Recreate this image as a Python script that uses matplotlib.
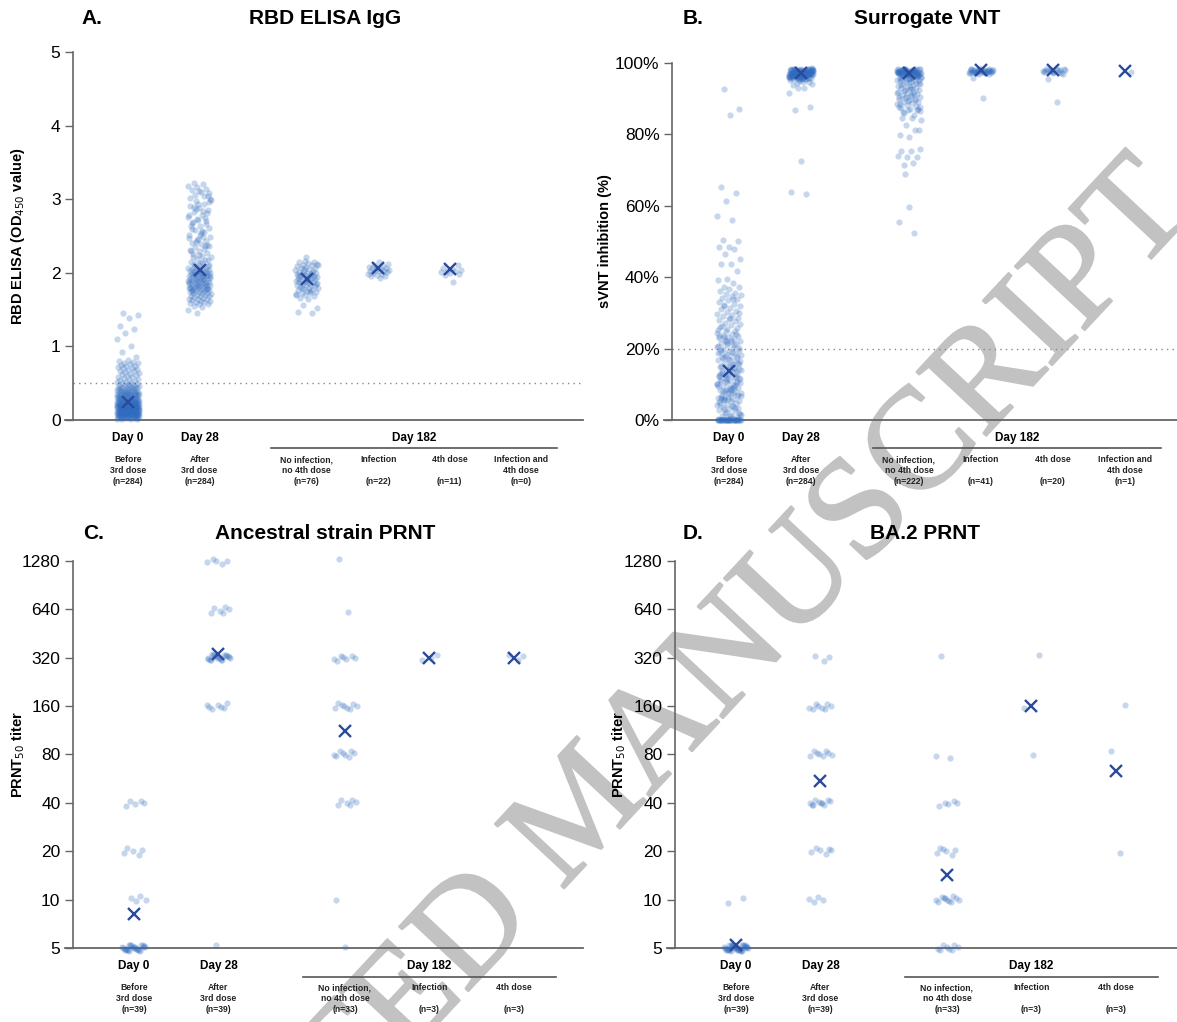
import numpy as np
import matplotlib.pyplot as plt
import matplotlib.patheffects as pe

plt.rcParams['font.family'] = ['Liberation Sans', 'DejaVu Sans']


def vals(s):
    return np.array(s.split(), dtype=float)


# ---------------- data ----------------
A_DAY0 = vals("""145 143 139 128 124 118 110 100 93 85 82 80 79 78 77 76
75 74 73 72 71 70 69 68 67 66 65 64 63 62 61 60 59 58 57 56 55 54 53 52 51 50 50 49
48 48 47 47 46 46 45 45 44 44 44 43 43 42 42 42 41 41 40 40 40 39 39 39 38 38 38 37 37 37 36 36 36 36 35 35 35 35 35 35
34 34 33 33 33 32 32 32 31 31 31 31 30 30 30 30 29 29 29 29 28 28 28 28 28 27 27 27 27 27 26 26 26 26 26
25 25 25 25 25 25 24 24 24 24 24 24 23 23 23 23 23 23 22 22 22 22 22 22 21 21 21 21 21 21 21 20 20 20 20 20 20 20
19 19 19 19 19 19 19 18 18 18 18 18 18 18 17 17 17 17 17 17 17 16 16 16 16 16 16 16 15 15 15 15 15 15 15
14 14 14 14 14 14 14 13 13 13 13 13 13 13 12 12 12 12 12 12 12 11 11 11 11 11 11 11 10 10 10 10 10 10 10
9 9 9 9 9 9 9 8 8 8 8 8 8 8 7 7 7 7 7 7 7 6 6 6 6 6 6 6 5 5 5 5 5 5 5 4 4 4 4 4 4 3 3 3 3 3 2 2 2 2""") / 100
A_DAY28 = vals("""146 150 153 155 157 158 159 160
161 162 162 163 164 165 165 166 167 168 168 169 170 170 171 172 172 173 174 174 175 175 176 177 177 178 178
179 179 180 180 181 181 182 182 183 183 184 184 185 185 186 186 187 187 188 188 189 189 190 190 191 191
192 192 193 193 194 194 195 195 196 196 197 197 198 198 199 199 200 200 201 201 202 202 203 203 204 204
205 205 206 206 207 208 209 210 180 185 190 195 200 175 178 182 188 192 198
211 213 215 217 219 221 223 225 227 229 231 233 235 237 239 241 243 245 247 249 212 218 224 230 236 242 248 214 222 238 246
252 255 258 261 264 267 270 273 276 279 282 285 288 291 294 297 300 254 260 266 272 278 284 290 296 251 263 275 287 299 257 269 281 293
302 304 306 308 310 312 314 316 318 320 322 305 311""") / 100
A_NOINF = vals("""222 147 146 156 152
165 166 168 170 171 172 173 174 175 176 177 178 179 180 181 182 183 183 184 185 186 186 187 188 188 189 190 190
191 192 192 193 194 194 195 196 196 197 198 198 199 200 200 201 202 203 204 205 206 207 208 209 210 211 212 213
214 215 216 170 175 180 185 190 195 200 205 210""") / 100
A_INF = vals("193 195 196 197 198 199 200 201 202 202 203 204 204 205 206 206 207 208 209 210 212 215") / 100
A_4TH = vals("188 197 199 200 201 202 203 204 205 206 210") / 100
A_BOTH = vals("")
A_MEANS = [0.24, 2.04, 1.91, 2.07, 2.05, None]
A_SUBS = ["Before\n3rd dose\n(n=284)", "After\n3rd dose\n(n=284)", "No infection,\nno 4th dose\n(n=76)",
          "Infection\n\n(n=22)", "4th dose\n\n(n=11)", "Infection and\n4th dose\n(n=0)"]

B_DAY0 = vals("""92.7 87.1 85.4 65.4 63.7 61.4 57.1 56.0 50.4 50.1
48.4 48.4 47.8 46.4 45.2 43.6 43.6 41.7 39.6 39.2 38.3 37.2 37.2 36.8 36.0 35.5 35.2 35.0
34.6 34.2 33.8 33.5 33.0 32.6 32.2 31.8 31.5 31.0 30.6 30.2 29.8 29.5 29.0 28.7 28.3 28.0 27.6 27.2 26.9 26.5
26.2 25.8 25.5 25.2 34.0 32.0 30.0 28.5 26.0 25.0
24.8 24.5 24.2 23.9 23.6 23.3 23.0 22.7 22.4 22.1 21.8 21.5 21.2 20.9 20.6 20.3 20.0 19.7 19.4 19.1 18.8 18.5
18.2 17.9 17.6 17.3 17.0 16.7 16.4 16.1 15.8 15.5 15.2 24.0 22.0 20.5 19.0 17.5 16.0 15.0 23.5 21.0 18.0 16.5
22.5 19.5 17.8 21.5 18.7 15.6 23.2 20.2 16.9
14.8 14.5 14.2 13.9 13.6 13.3 13.0 12.7 12.4 12.1 11.8 11.5 11.2 10.9 10.6 10.3 10.0 9.7 9.4 9.1 8.8 8.5 8.2
7.9 7.6 7.3 7.0 6.7 6.4 6.1 5.8 5.5 5.2 14.0 13.0 12.0 11.0 10.0 9.0 8.0 7.0 6.0 5.0 14.5 12.5 10.5 8.5 6.5
13.5 11.5 9.5 7.5 5.5 14.2 12.8 11.3 9.8 8.3 6.8 5.3 13.7 10.7 7.7 12.2 9.2 6.2 11.9 8.9 5.9
4.8 4.5 4.2 3.9 3.6 3.3 3.0 2.7 2.4 2.1 1.8 1.5 1.2 0.9 0.6 0.3 4.0 3.0 2.0 1.0 4.6 3.4 2.2 1.3 0.7 0.4 0.2
0 0 0 0 0 0 0 0 0 0 0 0 0 0 0 0 0 0 0 0 0 0 0 0 0 0 0 0 0 0""")
B_DAY28 = vals("""93.1 91.7 93.1 86.8 87.6 72.6 63.9 63.2 94.3 94.0 94.6 93.8 94.8 95.0
95.3 95.5 95.7 95.9 96.1 96.3 96.5 96.7 96.9 97.1 97.3 97.5 97.7 97.9 98.1 98.3 98.5
95.4 95.6 95.8 96.0 96.2 96.4 96.6 96.8 97.0 97.2 97.4 97.6 97.8 98.0 98.2 98.4
95.5 95.9 96.3 96.7 97.1 97.5 97.9 98.3 96.0 96.4 96.8 97.2 97.6 98.0 98.4
95.6 96.1 96.6 97.1 97.6 98.1 95.8 96.3 96.8 97.3 97.8 98.3 96.2 96.9 97.4 97.9
96.5 96.7 96.9 97.1 97.3 97.5 97.7 97.0 97.2 97.4 97.6 96.6 96.8 97.8 98.0
97.2 97.0 96.8 96.4 97.6 98.2 95.7 96.9 97.3 97.7 98.1 96.5 97.1 97.5 96.1
96.3 96.7 97.0 97.4 97.8 98.2 95.9 96.4 96.9 97.3 97.7 98.0 96.0 96.6 97.2
97.9 96.2 96.8 97.4 98.3 95.6 96.5 97.1 97.6 98.1""")
B_NOINF = vals("""59.7 55.5 52.5 68.8 75.8 75.3 75.3 73.6 73.6 74.0 72.1 71.3 81.2 79.4 79.9 81.2 82.6 84.0 84.5 84.5
86.8 86.8 87.8
85.5 86.0 86.5 87.0 87.5 88.0 88.2 88.5 88.8 89.0 89.2 89.5 89.8 90.0 90.2 90.5 90.8 91.0 91.2 91.5 91.8 92.0
92.2 92.5 92.8 88.6 89.6 90.6 91.6 92.6 86.2 87.2 89.4 90.4 91.4 92.4 87.8 90.9 92.9 93.0
93.2 93.5 93.8 94.1 94.4 94.7 95.0 95.3 95.6 95.9 96.2 96.5 96.8 97.1 97.4 97.7 98.0 98.3
93.4 93.9 94.3 94.8 95.2 95.7 96.1 96.6 97.0 97.5 97.9 98.4 94.0 94.6 95.4 96.0 96.7 97.3 97.8 98.2
95.1 95.5 95.8 96.3 96.9 97.2 97.6 98.1 96.4 96.8 97.0 97.4 97.9 98.3 95.9 96.6 97.1 97.7 98.0
96.1 96.5 96.9 97.3 97.6 97.9 98.2 96.0 96.7 97.2 97.5 97.8 98.4 96.3 97.0 97.4 97.7 98.0 96.8 97.1
97.5 97.9 98.2 96.6 97.2 97.6 98.1 96.2 96.9 97.3 97.8 98.3 97.0 97.4 97.7 98.0""")
B_INF = vals("""90.1 95.9 96.8 97.0 97.1 97.2 97.3 97.4 97.5 97.6 97.7 97.8 97.9 98.0 98.1 98.2 98.3 98.4
97.1 97.3 97.5 97.7 97.9 98.1 98.3 97.2 97.4 97.6 97.8 98.0 98.2 97.5 97.7 97.9 98.1 97.6 97.8 98.0 97.7""")
B_4TH = vals("89.2 95.6 97.0 97.2 97.4 97.6 97.8 98.0 98.2 98.4 97.3 97.5 97.7 97.9 98.1 98.3 97.6 97.8 98.0 97.9")
B_BOTH = vals("97.5")
B_MEANS = [13.7, 97.1, 97.2, 98.0, 98.0, 97.8]
B_SUBS = ["Before\n3rd dose\n(n=284)", "After\n3rd dose\n(n=284)", "No infection,\nno 4th dose\n(n=222)",
          "Infection\n\n(n=41)", "4th dose\n\n(n=20)", "Infection and\n4th dose\n(n=1)"]

TITERS = [5, 10, 20, 40, 80, 160, 320, 640, 1280]
C_COUNTS = [
    [25, 4, 5, 5, 0, 0, 0, 0, 0],   # Day 0
    [1, 0, 0, 0, 0, 7, 20, 6, 5],   # Day 28
    [1, 1, 0, 6, 8, 8, 7, 1, 1],    # Day 182, no infection / no 4th dose
    [0, 0, 0, 0, 0, 0, 3, 0, 0],    # Day 182, infection
    [0, 0, 0, 0, 0, 0, 3, 0, 0],    # Day 182, 4th dose
]
C_GMT = [8.1, 340, 112, 320, 320]
C_SUBS = ["Before\n3rd dose\n(n=39)", "After\n3rd dose\n(n=39)", "No infection,\nno 4th dose\n(n=33)",
          "Infection\n\n(n=3)", "4th dose\n\n(n=3)"]

D_COUNTS = [
    [37, 2, 0, 0, 0, 0, 0, 0, 0],
    [0, 4, 6, 10, 8, 8, 3, 0, 0],
    [8, 11, 6, 5, 2, 0, 1, 0, 0],
    [0, 0, 0, 0, 1, 1, 1, 0, 0],
    [0, 0, 1, 0, 1, 1, 0, 0, 0],
]
D_GMT = [5.2, 55, 14.3, 160, 63]
D_SUBS = C_SUBS

# ---------------- drawing ----------------
W, H = 1177, 1022
PT = '#2f6bbf'
XM = '#2a4b9b'
AX = '#666666'

fig = plt.figure(figsize=(W / 100, H / 100), dpi=100)
fig.patch.set_facecolor('white')


def add_ax(left, top, right, bottom):
    ax = fig.add_axes([left / W, 1 - bottom / H, (right - left) / W, (bottom - top) / H])
    ax.set_facecolor('none')
    for s in ['top', 'right', 'bottom']:
        ax.spines[s].set_visible(False)
    ax.spines['left'].set_color(AX)
    ax.spines['left'].set_linewidth(1.2)
    ax.tick_params(axis='y', length=6, width=1, color=AX, labelsize=12.5, pad=3)
    ax.tick_params(axis='x', bottom=False, labelbottom=False)
    ax.plot([-8 / ((right - left)), 1], [0, 0], transform=ax.transAxes, clip_on=False,
            color=AX, lw=1.3, zorder=2)
    return ax, bottom - top


def draw_points(ax, positions, groups, means, w, h=0.0, log=False):
    for k, (p, v) in enumerate(zip(positions, groups)):
        v = np.asarray(v, float)
        if v.size == 0:
            continue
        i = np.arange(v.size) + 5 * k
        dx = ((i * 0.6180339887 + 0.3) % 1 - 0.5) * 2 * w
        y = v
        if log:
            dy = ((i * 0.7548776662 + 0.1) % 1 - 0.5) * 2 * h
            y = v * 2 ** dy
        ax.scatter(p + dx, y, s=20, color=PT, alpha=0.27, linewidths=0, clip_on=False, zorder=3)
    for p, m in zip(positions, means):
        if m is None:
            continue
        ax.plot(p, m, marker='x', ms=8, mew=1.7, color=XM, ls='none', zorder=5, clip_on=False)


def bottom_labels(ax, axh, positions, subs):
    tr = ax.get_xaxis_transform()
    ax.text(positions[0], -18 / axh, 'Day 0', ha='center', va='center', weight='bold', size=8.5, transform=tr)
    ax.text(positions[1], -18 / axh, 'Day 28', ha='center', va='center', weight='bold', size=8.5, transform=tr)
    x0, x1 = positions[2] - 0.5, positions[-1] + 0.5
    ax.text((x0 + x1) / 2, -18 / axh, 'Day 182', ha='center', va='center', weight='bold', size=8.5, transform=tr)
    ax.plot([x0, x1], [-28.5 / axh] * 2, transform=tr, clip_on=False, color='#555555', lw=1.2)
    for p, s in zip(positions, subs):
        ax.text(p, -35 / axh, s, ha='center', va='top', weight='bold', size=6.2,
                linespacing=1.25, transform=tr, color='#222222')


def titles(xl, xc, y, letter, title):
    fig.text(xl / W, 1 - y / H, letter, ha='left', va='center', weight='bold', size=15)
    fig.text(xc / W, 1 - y / H, title, ha='center', va='center', weight='bold', size=15)


POS6 = [1, 2, 3.5, 4.5, 5.5, 6.5]
POS5 = [1, 2, 3.5, 4.5, 5.5]

# Panel A
ax, axh = add_ax(73, 52, 583, 420)
ax.set_xlim(1 - 55 / 71.5, 1 - 55 / 71.5 + 510 / 71.5)
ax.set_ylim(0, 5)
ax.set_yticks([0, 1, 2, 3, 4, 5])
ax.axhline(0.5, color='#888888', lw=1, ls=(0, (1, 3)), zorder=1)
draw_points(ax, POS6, [A_DAY0, A_DAY28, A_NOINF, A_INF, A_4TH, A_BOTH], A_MEANS, 0.16)
bottom_labels(ax, axh, POS6, A_SUBS)
ax.set_ylabel('RBD ELISA (OD$_{450}$ value)', weight='bold', size=10.5)
ax.yaxis.set_label_coords(-0.09, 0.5)
titles(81, 325, 18, 'A.', 'RBD ELISA IgG')

# Panel B
ax, axh = add_ax(672, 63, 1177, 420)
ax.set_xlim(1 - 57 / 72, 1 - 57 / 72 + 505 / 72)
ax.set_ylim(0, 100)
ax.set_yticks([0, 20, 40, 60, 80, 100])
ax.set_yticklabels(['0%', '20%', '40%', '60%', '80%', '100%'])
ax.axhline(20, color='#888888', lw=1, ls=(0, (1, 3)), zorder=1)
draw_points(ax, POS6, [B_DAY0, B_DAY28, B_NOINF, B_INF, B_4TH, B_BOTH], B_MEANS, 0.17)
bottom_labels(ax, axh, POS6, B_SUBS)
ax.set_ylabel('sVNT inhibition (%)', weight='bold', size=10.5)
ax.yaxis.set_label_coords(-0.119, 0.5)
titles(683, 927, 18, 'B.', 'Surrogate VNT')

# Panels C and D
for box, counts, gmt, subs, lab_x, tl, letter, title in [
        ((73, 561, 583, 948), C_COUNTS, C_GMT, C_SUBS, -0.09, (83, 325), 'C.', 'Ancestral strain PRNT'),
        ((675, 561, 1177, 948), D_COUNTS, D_GMT, D_SUBS, -0.094, (683, 925), 'D.', 'BA.2 PRNT')]:
    ax, axh = add_ax(*box)
    width = box[2] - box[0]
    ax.set_yscale('log', base=2)
    ax.set_ylim(5, 1280)
    ax.set_yticks(TITERS)
    ax.set_yticklabels([str(t) for t in TITERS])
    ax.minorticks_off()
    ax.set_xlim(1 - 61 / 84.4, 1 - 61 / 84.4 + width / 84.4)
    groups = [np.repeat(TITERS, c) for c in counts]
    draw_points(ax, POS5, groups, gmt, 0.14, h=0.07, log=True)
    bottom_labels(ax, axh, POS5, subs)
    ax.set_ylabel('PRNT$_{50}$ titer', weight='bold', size=10.5)
    ax.yaxis.set_label_coords(lab_x, 0.5)
    titles(tl[0], tl[1], 533, letter, title)

# watermark
fig.text(1171 / W, 1 - 187 / H, 'ACCEPTED MANUSCRIPT', family=['Liberation Serif', 'DejaVu Serif'],
         size=104, color='#c2c2c2', rotation=47, rotation_mode='anchor',
         ha='right', va='center', zorder=-5,
         path_effects=[pe.withStroke(linewidth=1.5, foreground='#c2c2c2')])

fig.savefig('out.png', dpi=100, facecolor='white')
